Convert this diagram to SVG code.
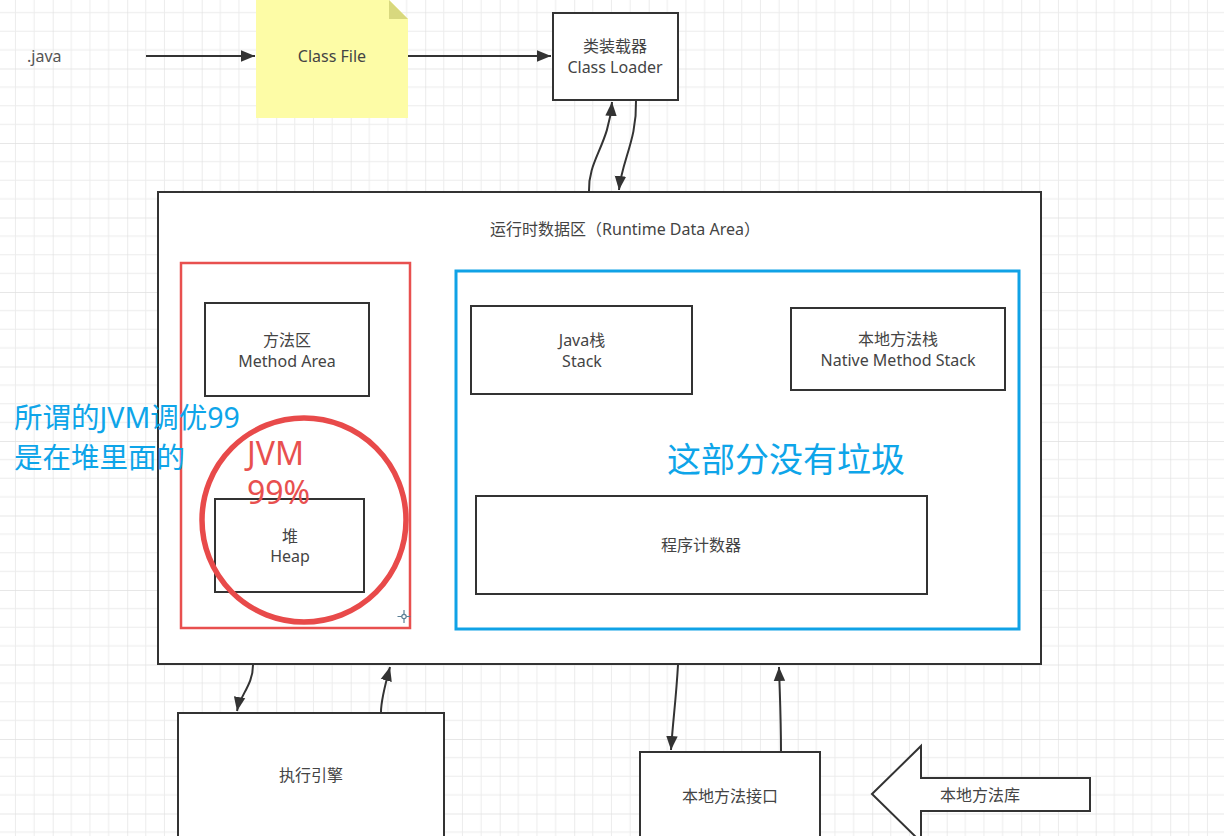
<svg xmlns="http://www.w3.org/2000/svg" width="1224" height="836" viewBox="0 0 1224 836">
  <defs>
    <pattern id="grid" patternUnits="userSpaceOnUse" x="52.7" y="68.5" width="74.5" height="74.5">
      <path d="M18.6 0V74.5M37.25 0V74.5M55.9 0V74.5M0 18.6H74.5M0 37.25H74.5M0 55.9H74.5" stroke="#ececec" stroke-width="1" fill="none"/>
      <path d="M0 0V74.5M0 0H74.5" stroke="#e0e0e0" stroke-width="1.3" fill="none"/>
    </pattern>
    <marker id="arr" viewBox="0 0 10 10" refX="10" refY="5" markerWidth="7" markerHeight="7" orient="auto" markerUnits="strokeWidth">
      <path d="M0 0.9L10 5L0 9.1Z" fill="#333"/>
    </marker>
    <style>
      .box { fill: #fff; stroke: #333; stroke-width: 2; }
      .lbl { font-family: "Noto Sans", "Noto Sans CJK SC", sans-serif; font-size: 16px; fill: #444; text-anchor: middle; }
      .con { fill: none; stroke: #333; stroke-width: 2; marker-end: url(#arr); }
      .blue { font-family: "Noto Sans", "Noto Sans CJK SC", sans-serif; fill: #0ea5e9; }
      .red { font-family: "Noto Sans", sans-serif; font-size: 32px; fill: #e8504f; }
    </style>
  </defs>

  <!-- canvas grid -->
  <rect width="1224" height="836" fill="#fff"/>
  <rect width="1224" height="836" fill="url(#grid)"/>

  <!-- source -->
  <g id="java-src">
    <text x="27" y="62" style="font-family:'Noto Sans',sans-serif;font-size:16px;fill:#555">.java</text>
  </g>

  <!-- compiled class file (sticky note) -->
  <g id="class-file">
    <path d="M256 0H389L408 19V118H256Z" fill="#fdfca6"/>
    <path d="M389 0L408 19H389Z" fill="#d8d87e"/>
    <text class="lbl" x="332" y="62">Class File</text>
  </g>

  <!-- class loader -->
  <g id="class-loader">
    <rect class="box" x="553" y="13" width="125" height="87"/>
    <text class="lbl" x="615" y="52">类装载器</text>
    <text class="lbl" x="615" y="73">Class Loader</text>
  </g>

  <!-- runtime data area -->
  <g id="runtime-data-area">
    <rect class="box" x="158" y="192" width="883" height="472"/>
    <text class="lbl" x="625" y="235">运行时数据区（Runtime Data Area）</text>
  </g>

  <!-- shared area: method area + heap -->
  <g id="shared-area">
    <rect x="181" y="263" width="229" height="365" fill="none" stroke="#e8504f" stroke-width="2.5"/>
  </g>
  <g id="method-area">
    <rect class="box" x="205" y="303" width="164" height="93"/>
    <text class="lbl" x="287" y="346">方法区</text>
    <text class="lbl" x="287" y="367">Method Area</text>
  </g>
  <g id="heap">
    <rect class="box" x="215" y="499" width="149" height="93"/>
    <text class="lbl" x="290" y="542">堆</text>
    <text class="lbl" x="290" y="562">Heap</text>
  </g>
  <g id="heap-mark">
    <circle cx="304" cy="520" r="102" fill="none" stroke="#e84a4a" stroke-width="5.5"/>
    <text class="red" x="247" y="465">JVM</text>
    <text class="red" x="247" y="504">99%</text>
    <path d="M404 610V623M397.5 616.5H410.5" stroke="#5b7f95" stroke-width="1.2"/>
    <circle cx="404" cy="616.5" r="2.2" fill="#fff" stroke="#5b7f95" stroke-width="1.2"/>
  </g>

  <!-- thread-private area -->
  <g id="private-area">
    <rect x="456" y="271" width="563" height="358" fill="none" stroke="#10a2e6" stroke-width="3"/>
    <text class="blue" x="667" y="472" style="font-size:34px">这部分没有垃圾</text>
  </g>
  <g id="java-stack">
    <rect class="box" x="471" y="306" width="221" height="88"/>
    <text class="lbl" x="582" y="346">Java栈</text>
    <text class="lbl" x="582" y="367">Stack</text>
  </g>
  <g id="native-stack">
    <rect class="box" x="791" y="308" width="214" height="82"/>
    <text class="lbl" x="898" y="345">本地方法栈</text>
    <text class="lbl" x="898" y="366">Native Method Stack</text>
  </g>
  <g id="pc-register">
    <rect class="box" x="476" y="496" width="451" height="98"/>
    <text class="lbl" x="701" y="551">程序计数器</text>
  </g>

  <!-- execution engine -->
  <g id="exec-engine">
    <rect class="box" x="178" y="713" width="266" height="140"/>
    <text class="lbl" x="311" y="781">执行引擎</text>
  </g>

  <!-- native interface -->
  <g id="native-interface">
    <rect class="box" x="640" y="752" width="180" height="100"/>
    <text class="lbl" x="730" y="802">本地方法接口</text>
  </g>

  <!-- native library -->
  <g id="native-library">
    <path d="M872 794L921 746V778H1090V811H921V842Z" fill="#fff" stroke="#333" stroke-width="2"/>
    <text class="lbl" x="980" y="801">本地方法库</text>
  </g>

  <!-- connectors -->
  <g id="connectors">
    <path class="con" d="M146 56H255"/>
    <path class="con" d="M408 56H551"/>
    <path class="con" d="M589 191C588 160 609 145 612 102"/>
    <path class="con" d="M636 101C637 140 622 160 619 190"/>
    <path class="con" d="M253 665C253 685 240 695 237 711"/>
    <path class="con" d="M381 712C381 700 385 685 390 667"/>
    <path class="con" d="M678 665C676 700 673 720 671 750"/>
    <path class="con" d="M781 751C781 720 780 700 779 667"/>
  </g>

  <!-- annotation -->
  <g id="tuning-note">
    <text class="blue" x="14" y="428" style="font-size:28.5px">所谓的JVM调优99</text>
    <text class="blue" x="14" y="468" style="font-size:28.5px">是在堆里面的</text>
  </g>
</svg>
